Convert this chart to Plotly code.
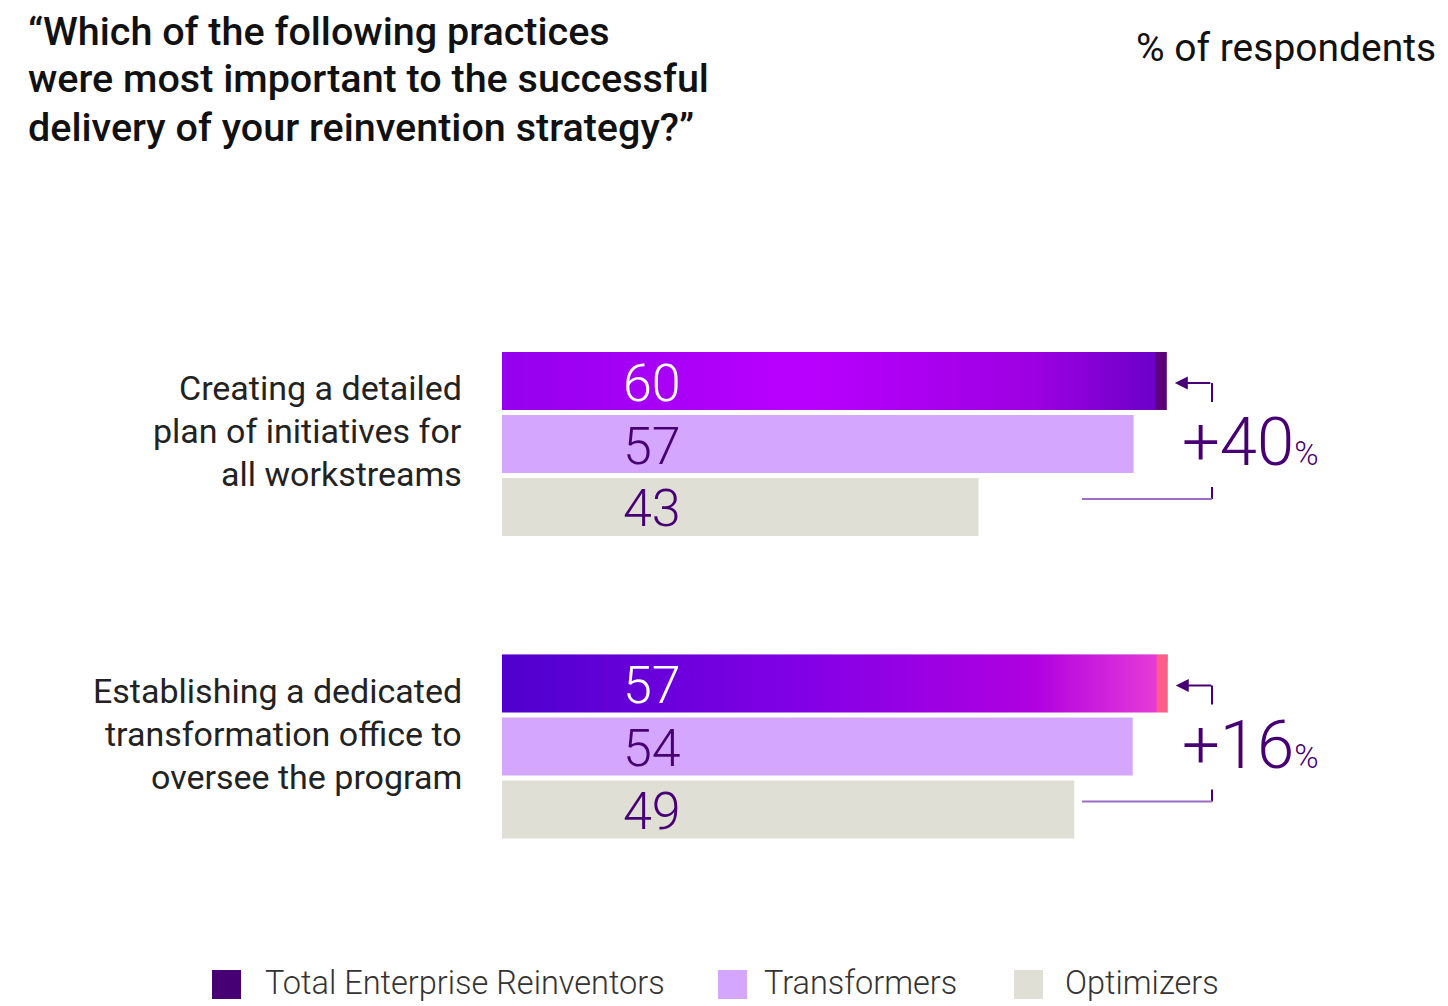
import plotly.graph_objects as go

# ---------------- data ----------------
categories = [
    "Creating a detailed<br>plan of initiatives for<br>all workstreams",
    "Establishing a dedicated<br>transformation office to<br>oversee the program",
]
series = ["Total Enterprise Reinventors", "Transformers", "Optimizers"]
ter_values = [60, 57]
transformer_values = [57, 54]
optimizer_values = [43, 49]
uplift_labels = ["+40", "+16"]
title_text = "“Which of the following practices<br>were most important to the successful<br>delivery of your reinvention strategy?”"
unit_text = "% of respondents"

# ---------------- layout helpers ----------------
W, H = 1448, 1006
X0 = 502                      # pixel where bars start
SCALES = [11.08, 11.68]       # px per unit for each group (as in the original)
AXES = ["x", "x2"]
BAR_H = 58
GROUP_TOP = [381, 683.5]
STEP = 63

DARK = "#460073"
TRANS_C = "#d5a6fd"
OPT_C = "#e0dfd6"
TEXT_C = "#222222"
FONT = "Roboto"

ter_grads = [
    [[0, "#9500ee"], [0.45, "#b900ff"], [0.8, "#9d00e2"], [0.982, "#6c00c8"],
     [0.985, "#5c007e"], [1, "#5c007e"]],
    [[0, "#4f00cf"], [0.45, "#8200e6"], [0.8, "#b000e0"], [0.982, "#e63ad8"],
     [0.985, "#ff5c8a"], [1, "#ff5c8a"]],
]

def px(xp):
    return xp / W

def py(yp):
    return 1 - yp / H

fig = go.Figure()
annotations = []
shapes = []

for g in range(2):
    ax = AXES[g]
    s = SCALES[g]
    vals = [ter_values[g], transformer_values[g], optimizer_values[g]]
    centers = [GROUP_TOP[g] + i * STEP for i in range(3)]
    # TER bar with gradient fill
    v = vals[0]
    c = centers[0]
    fig.add_trace(go.Scatter(
        x=[0, v, v, 0, 0],
        y=[c - BAR_H / 2, c - BAR_H / 2, c + BAR_H / 2, c + BAR_H / 2, c - BAR_H / 2],
        fill="toself", mode="lines", line=dict(width=0),
        fillgradient=dict(type="horizontal", colorscale=ter_grads[g]),
        xaxis=ax, yaxis="y", showlegend=False, hoverinfo="skip",
    ))
    # darker top strip
    fig.add_trace(go.Bar(
        x=[v], y=[c - BAR_H / 2 + 4], width=8, orientation="h",
        marker=dict(color="rgba(70,0,115,0.30)", line=dict(width=0)),
        xaxis=ax, yaxis="y", showlegend=False, hoverinfo="skip",
    ))
    # Transformers and Optimizers bars
    for i, col in [(1, TRANS_C), (2, OPT_C)]:
        fig.add_trace(go.Bar(
            x=[vals[i]], y=[centers[i]], width=BAR_H, orientation="h",
            marker=dict(color=col, line=dict(width=0)),
            xaxis=ax, yaxis="y", showlegend=False, hoverinfo="skip",
        ))
    # value labels
    for i in range(3):
        annotations.append(dict(
            x=px(652), y=py(centers[i] + 2), xref="paper", yref="paper",
            text=str(vals[i]), showarrow=False, xanchor="center", yanchor="middle",
            font=dict(family=FONT, size=52, color="white" if i == 0 else DARK, weight=300),
        ))
    # category label lines
    lines = categories[g].split("<br>")
    for k, ln in enumerate(lines):
        annotations.append(dict(
            x=px(464), y=py(centers[0] + 7 + k * 43), xref="paper", yref="paper",
            text=ln, showarrow=False, xanchor="right", yanchor="middle",
            font=dict(family=FONT, size=34, color=TEXT_C, weight=400),
        ))
    # arrow pointing at TER bar end
    tip_x = v + 8 / s
    annotations.append(dict(
        x=tip_x, y=c + 2, xref=ax, yref="y",
        ax=37, ay=0, axref="pixel", ayref="pixel",
        text="", showarrow=True, arrowhead=2, arrowsize=1.3, arrowwidth=2,
        arrowcolor=DARK, standoff=0,
    ))
    yt = c + 2
    shapes.append(dict(type="line", xref="paper", yref="paper",
                       x0=px(1212), x1=px(1212), y0=py(yt), y1=py(yt + 19),
                       line=dict(color=DARK, width=2)))
    yb = centers[2] - 8
    shapes.append(dict(type="line", xref="paper", yref="paper",
                       x0=px(1212), x1=px(1212), y0=py(yb - 12), y1=py(yb),
                       line=dict(color=DARK, width=2)))
    shapes.append(dict(type="line", xref="paper", yref="paper",
                       x0=px(1082), x1=px(1212), y0=py(yb), y1=py(yb),
                       line=dict(color="#9a6cc4", width=2)))
    # uplift text
    annotations.append(dict(
        x=px(1250), y=py(centers[1] - 2), xref="paper", yref="paper",
        text=uplift_labels[g] + "<span style='font-size:33px'>%</span>",
        showarrow=False, xanchor="center", yanchor="middle",
        font=dict(family=FONT, size=67, color=DARK, weight=300),
    ))

# title lines and unit
for k, ln in enumerate(title_text.split("<br>")):
    annotations.append(dict(
        x=px(26), y=py(31 + k * 48), xref="paper", yref="paper", text=ln,
        showarrow=False, xanchor="left", yanchor="middle", align="left",
        font=dict(family=FONT, size=39.5, color="#111111", weight=500),
    ))
annotations.append(dict(
    x=px(1438), y=py(48), xref="paper", yref="paper", text=unit_text,
    showarrow=False, xanchor="right", yanchor="middle",
    font=dict(family=FONT, size=39, color="#111111", weight=400),
))

# legend (manual)
legend_items = [(212, 263, DARK), (718, 762, TRANS_C), (1014, 1063, OPT_C)]
for (sx, tx, col), name in zip(legend_items, series):
    shapes.append(dict(type="rect", xref="paper", yref="paper",
                       x0=px(sx), x1=px(sx + 29), y0=py(970), y1=py(999),
                       fillcolor=col, line=dict(width=0)))
    annotations.append(dict(
        x=px(tx), y=py(983), xref="paper", yref="paper", text=name,
        showarrow=False, xanchor="left", yanchor="middle",
        font=dict(family=FONT, size=32.5, color="#333333", weight=300),
    ))

axis_common = dict(visible=False, showgrid=False, zeroline=False, fixedrange=True)
fig.update_layout(
    width=W, height=H,
    margin=dict(l=0, r=0, t=0, b=0),
    paper_bgcolor="white", plot_bgcolor="white",
    barmode="overlay",
    xaxis=dict(range=[-X0 / SCALES[0], (W - X0) / SCALES[0]], **axis_common),
    xaxis2=dict(range=[-X0 / SCALES[1], (W - X0) / SCALES[1]], overlaying="x", **axis_common),
    yaxis=dict(range=[H, 0], **axis_common),
    annotations=annotations,
    shapes=shapes,
    showlegend=False,
)

fig.write_html("out.html", config={"displayModeBar": False},
               post_script="document.body.style.margin='0';document.body.style.overflow='hidden';")
